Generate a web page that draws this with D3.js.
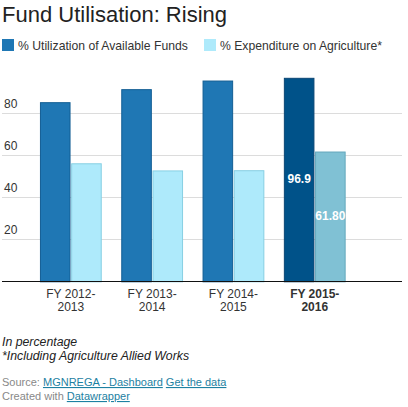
<!DOCTYPE html>
<html>
<head>
<meta charset="utf-8">
<script src="https://cdnjs.cloudflare.com/ajax/libs/d3/7.8.5/d3.min.js"></script>
<style>
  body { margin: 0; background: #fff; font-family: "Liberation Sans", Arial, sans-serif; }
</style>
</head>
<body>
<div id="chart"></div>
<script>
// Fund utilisation by financial year (MGNREGA)
const years = ['FY 2012-2013', 'FY 2013-2014', 'FY 2014-2015', 'FY 2015-2016'];
const seriesNames = ['% Utilization of Available Funds', '% Expenditure on Agriculture*'];
const utilization = [85.3, 91.5, 95.6, 96.9];
const agriculture = [56.2, 52.8, 52.9, 61.80];
const valueLabels = ['96.9', '61.80'];
const yTicks = [20, 40, 60, 80];

const W = 408, H = 407;
const svg = d3.select('#chart').append('svg')
    .attr('width', W)
    .attr('height', H)
    .style('font-family', '"Liberation Sans", Arial, sans-serif');

// Title
svg.append('text')
    .attr('x', 2).attr('y', 22)
    .style('font-size', '22px')
    .style('fill', '#222')
    .text('Fund Utilisation: Rising');

// Legend
const legendColors = ['#1f77b4', '#aeeafb'];
const legendX = [2, 204];
seriesNames.forEach((name, i) => {
    svg.append('rect')
        .attr('x', legendX[i]).attr('y', 39)
        .attr('width', 12).attr('height', 12)
        .attr('fill', legendColors[i]);
    svg.append('text')
        .attr('x', legendX[i] + 16).attr('y', 49.5)
        .style('font-size', '12.2px')
        .style('fill', '#333')
        .text(name);
});

// Scales
const x = d3.scaleBand()
    .domain(years)
    .range([30.2, 355.4])
    .paddingInner(0.24)
    .paddingOuter(0.12);

const xSub = d3.scaleBand()
    .domain([0, 1])
    .range([0, x.bandwidth()])
    .paddingInner(0.02);

const y = d3.scaleLinear()
    .domain([0, 100])
    .range([281.3, 71.3]);

// Grid lines
svg.append('g')
    .selectAll('line')
    .data(yTicks)
    .enter()
    .append('line')
    .attr('x1', 2).attr('x2', 402)
    .attr('y1', d => Math.round(y(d)) + 0.5)
    .attr('y2', d => Math.round(y(d)) + 0.5)
    .attr('stroke', '#dcdcdc')
    .attr('stroke-width', 1);

svg.append('g')
    .selectAll('text')
    .data(yTicks)
    .enter()
    .append('text')
    .attr('x', 4)
    .attr('y', d => y(d) - 5)
    .style('font-size', '12px')
    .style('fill', '#333')
    .text(d => d);

// Bars
const rows = years.map((yr, i) => ({
    year: yr,
    values: [utilization[i], agriculture[i]],
    highlight: i === years.length - 1
}));

const fills = [['#1f77b4', '#aeeafb'], ['#005289', '#80c1d4']];
const strokes = [['#135e94', '#87cfe3'], ['#0a4674', '#64a8bd']];

const groups = svg.selectAll('.group')
    .data(rows)
    .enter()
    .append('g')
    .attr('class', 'group')
    .attr('transform', d => `translate(${x(d.year)},0)`);

groups.selectAll('rect')
    .data(d => d.values.map((v, j) => ({ v, j, hl: d.highlight })))
    .enter()
    .append('rect')
    .attr('x', d => xSub(d.j) + 0.5)
    .attr('y', d => y(d.v) + 0.5)
    .attr('width', xSub.bandwidth() - 1)
    .attr('height', d => y(0) - y(d.v))
    .attr('fill', d => fills[d.hl ? 1 : 0][d.j])
    .attr('stroke', d => strokes[d.hl ? 1 : 0][d.j])
    .attr('stroke-width', 1);

// Value labels on the highlighted group
groups.filter(d => d.highlight)
    .selectAll('.value-label')
    .data(d => d.values.map((v, j) => ({ v, j })))
    .enter()
    .append('text')
    .attr('class', 'value-label')
    .attr('x', d => xSub(d.j) + xSub.bandwidth() / 2)
    .attr('y', d => (y(d.v) + y(0)) / 2)
    .attr('text-anchor', 'middle')
    .attr('dominant-baseline', 'middle')
    .style('font-size', '12px')
    .style('font-weight', 'bold')
    .style('fill', '#fff')
    .text(d => valueLabels[d.j]);

// Baseline
svg.append('line')
    .attr('x1', 2).attr('x2', 402)
    .attr('y1', 281.5).attr('y2', 281.5)
    .attr('stroke', '#111')
    .attr('stroke-width', 1);

// X-axis labels, wrapped on the hyphen
[0, 1].forEach(line => {
    svg.selectAll('.x-label-' + line)
        .data(rows)
        .enter()
        .append('text')
        .attr('class', 'x-label-' + line)
        .attr('x', d => x(d.year) + x.bandwidth() / 2)
        .attr('y', line === 0 ? 297.5 : 311)
        .attr('text-anchor', 'middle')
        .style('font-size', '12px')
        .style('fill', '#333')
        .style('font-weight', d => d.highlight ? 'bold' : 'normal')
        .text(d => line === 0 ? d.year.split('-')[0] + '-' : d.year.split('-')[1]);
});

// Notes
const notes = svg.append('g')
    .style('font-size', '12.3px')
    .style('font-style', 'italic')
    .style('fill', '#222');
notes.append('text').attr('x', 2).attr('y', 346).text('In percentage');
notes.append('text').attr('x', 2).attr('y', 359.5).text('*Including Agriculture Allied Works');

// Footer
const src = svg.append('text')
    .attr('x', 2).attr('y', 386)
    .style('font-size', '11px')
    .style('fill', '#888');
src.append('tspan').text('Source: ');
src.append('tspan').style('fill', '#1d81a2').style('text-decoration', 'underline').text('MGNREGA - Dashboard');
src.append('tspan').text(' ');
src.append('tspan').style('fill', '#1d81a2').style('text-decoration', 'underline').text('Get the data');

const made = svg.append('text')
    .attr('x', 2).attr('y', 400)
    .style('font-size', '11px')
    .style('fill', '#888');
made.append('tspan').text('Created with ');
made.append('tspan').style('fill', '#1d81a2').style('text-decoration', 'underline').text('Datawrapper');
</script>
</body>
</html>
